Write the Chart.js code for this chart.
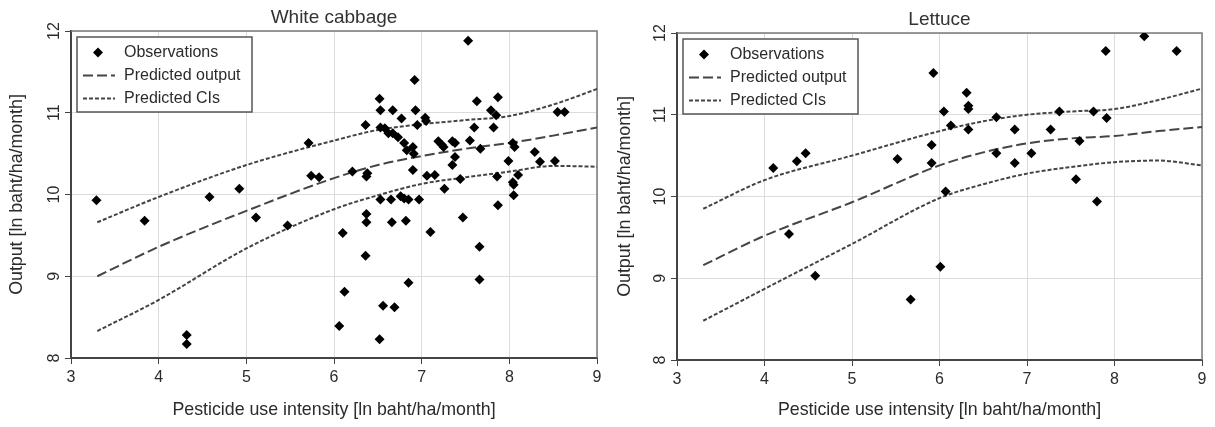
<!DOCTYPE html>
<html>
<head>
  <meta charset="utf-8">
  <title>Pesticide use intensity and output</title>
  <script src="https://cdn.jsdelivr.net/npm/chart.js"></script>
  <style>
    html, body {
      margin: 0;
      padding: 0;
      background: #fff;
    }
    #wrap {
      display: flex;
      width: 1215px;
      height: 427px;
    }
    .panel {
      position: relative;
      height: 427px;
    }
    #p1 { width: 607px; }
    #p2 { width: 608px; }
  </style>
</head>
<body>
  <div id="wrap">
    <div class="panel" id="p1"><canvas id="cabbage"></canvas></div>
    <div class="panel" id="p2"><canvas id="lettuce"></canvas></div>
  </div>

  <script>
    // tick values shared by both panels
    const xTicks = [3, 4, 5, 6, 7, 8, 9];
    const yTicks = [8, 9, 10, 11, 12];

    // White cabbage: observations
    const cabbageObsX = [
      3.29, 3.84, 4.32, 4.32, 4.58, 4.92, 5.11, 5.47, 5.71, 5.74,
      5.83, 6.06, 6.10, 6.12, 6.21, 6.36, 6.38, 6.37, 6.37, 6.37,
      6.36, 6.52, 6.52, 6.53, 6.53, 6.58, 6.53, 6.56, 6.62, 6.67,
      6.67, 6.65, 6.66, 6.69, 6.73, 6.77, 6.76, 6.80, 6.80, 6.82,
      6.83, 6.85, 6.85, 6.90, 6.91, 6.90, 6.92, 6.93, 6.95, 6.97,
      7.04, 7.05, 7.06, 7.10, 7.15, 7.19, 7.23, 7.25, 7.26, 7.35,
      7.38, 7.38, 7.35, 7.44, 7.47, 7.53, 7.55, 7.60, 7.63, 7.66,
      7.66, 7.67, 7.79, 7.82, 7.85, 7.87, 7.86, 7.87, 7.99, 8.04,
      8.06, 8.04, 8.05, 8.05, 8.10, 8.29, 8.35, 8.52, 8.55, 8.63
    ];
    const cabbageObsY = [
      9.93, 9.68, 8.28, 8.17, 9.97, 10.07, 9.72, 9.62, 10.63, 10.23,
      10.21, 8.39, 9.53, 8.81, 10.28, 10.85, 10.26, 10.22, 9.76, 9.66,
      9.25, 8.23, 11.17, 11.03, 10.82, 10.81, 9.94, 8.64, 10.75, 10.75,
      11.03, 9.94, 9.66, 8.62, 10.70, 10.93, 9.98, 10.63, 9.95, 9.68,
      10.54, 9.94, 8.92, 10.58, 10.50, 10.30, 11.40, 11.03, 10.85, 9.94,
      10.94, 10.90, 10.23, 9.54, 10.24, 10.65, 10.61, 10.58, 10.07, 10.65,
      10.63, 10.46, 10.36, 10.19, 9.72, 11.88, 10.66, 10.82, 11.14, 9.36,
      8.96, 10.56, 11.03, 10.82, 10.97, 11.19, 10.22, 9.87, 10.41, 10.63,
      10.58, 10.15, 10.12, 9.99, 10.24, 10.52, 10.40, 10.41, 11.01, 11.01
    ];
    // White cabbage: fitted curve and confidence band
    const cabbageFitX = [3.3, 4, 5, 6, 6.5, 7, 7.5, 8, 8.5, 9];
    const cabbagePred = [9.0, 9.36, 9.8, 10.2, 10.36, 10.47, 10.56, 10.63, 10.72, 10.82];
    const cabbageUpper = [9.66, 9.97, 10.36, 10.66, 10.79, 10.86, 10.91, 10.96, 11.1, 11.29];
    const cabbageLower = [8.33, 8.71, 9.34, 9.82, 9.99, 10.13, 10.21, 10.28, 10.35, 10.34];

    // Lettuce: observations
    const lettuceObsX = [
      4.10, 4.37, 4.47, 5.52, 4.28, 4.58, 5.67, 5.93, 6.05, 5.91,
      5.91, 6.13, 6.31, 6.33, 6.33, 6.33, 6.07, 6.01, 6.65, 6.65,
      6.86, 6.86, 7.05, 7.27, 7.37, 7.60, 7.56, 7.76, 7.91, 7.80,
      7.90, 8.34, 8.71
    ];
    const lettuceObsY = [
      10.35, 10.43, 10.53, 10.46, 9.54, 9.03, 8.74, 11.51, 11.04, 10.63,
      10.41, 10.87, 11.27, 11.11, 11.07, 10.82, 10.06, 9.14, 10.97, 10.53,
      10.82, 10.41, 10.53, 10.82, 11.04, 10.68, 10.21, 11.04, 10.96, 9.94,
      11.78, 11.96, 11.78
    ];
    // Lettuce: fitted curve and confidence band
    const lettuceFitX = [3.3, 4, 5, 6, 6.5, 7, 7.5, 8, 8.5, 9];
    const lettucePred = [9.16, 9.52, 9.93, 10.38, 10.54, 10.65, 10.71, 10.74, 10.8, 10.85];
    const lettuceUpper = [9.85, 10.2, 10.5, 10.8, 10.92, 11.0, 11.04, 11.07, 11.18, 11.32];
    const lettuceLower = [8.48, 8.87, 9.42, 9.98, 10.15, 10.28, 10.36, 10.42, 10.44, 10.38];

    const FONT = '"Liberation Sans", Arial, sans-serif';
    const TEXT = '#2b2b2b';
    const LINE = '#444';

    function pairs(xs, ys) {
      return xs.map((x, i) => ({ x: x, y: ys[i] }));
    }

    // grey top/right edge of the plot box
    const frame = {
      id: 'frame',
      beforeDatasetsDraw(chart) {
        const { ctx, chartArea: a } = chart;
        ctx.save();
        ctx.strokeStyle = '#7a7a7a';
        ctx.lineWidth = 1.5;
        ctx.beginPath();
        ctx.moveTo(a.left, a.top);
        ctx.lineTo(a.right, a.top);
        ctx.lineTo(a.right, a.bottom);
        ctx.stroke();
        ctx.restore();
      }
    };

    // boxed legend inside the plot, upper-left
    const boxLegend = {
      id: 'boxLegend',
      afterDraw(chart) {
        const { ctx, chartArea: a } = chart;
        const x0 = a.left + 6, y0 = a.top + 6, w = 175, h = 75;
        ctx.save();
        ctx.fillStyle = '#fff';
        ctx.fillRect(x0, y0, w, h);
        ctx.strokeStyle = '#555';
        ctx.lineWidth = 1.5;
        ctx.strokeRect(x0, y0, w, h);
        ctx.font = '16px ' + FONT;
        ctx.textAlign = 'left';
        ctx.textBaseline = 'middle';
        const rows = chart.data.datasets.filter(d => !d.noLegend);
        rows.forEach((ds, i) => {
          const cy = y0 + 15.5 + i * 23;
          if (ds.showLine) {
            ctx.strokeStyle = ds.borderColor;
            ctx.lineWidth = ds.borderWidth;
            ctx.setLineDash(ds.borderDash);
            ctx.beginPath();
            ctx.moveTo(x0 + 6, cy);
            ctx.lineTo(x0 + 38, cy);
            ctx.stroke();
            ctx.setLineDash([]);
          } else {
            ctx.fillStyle = ds.pointBackgroundColor;
            ctx.strokeStyle = ds.pointBackgroundColor;
            Chart.helpers.drawPoint(ctx, {
              pointStyle: 'rectRot', radius: 5, borderWidth: 0
            }, x0 + 21, cy);
          }
          ctx.fillStyle = TEXT;
          ctx.fillText(ds.label, x0 + 47, cy);
        });
        ctx.restore();
      }
    };

    function makeChart(id, title, obsX, obsY, fitX, pred, upper, lower, lay) {
      const lineStyle = {
        type: 'scatter',
        showLine: true,
        borderColor: LINE,
        borderWidth: 2,
        pointRadius: 0,
        cubicInterpolationMode: 'monotone',
        fill: false
      };
      return new Chart(document.getElementById(id), {
        type: 'scatter',
        data: {
          datasets: [
            {
              label: 'Observations',
              data: pairs(obsX, obsY),
              pointStyle: 'rectRot',
              pointRadius: 5,
              pointBackgroundColor: '#000',
              pointBorderWidth: 0,
              borderColor: '#000'
            },
            Object.assign({}, lineStyle, {
              label: 'Predicted output',
              data: pairs(fitX, pred),
              borderDash: [10, 4]
            }),
            Object.assign({}, lineStyle, {
              label: 'Predicted CIs',
              data: pairs(fitX, upper),
              borderDash: [4, 2]
            }),
            Object.assign({}, lineStyle, {
              label: 'Predicted CIs',
              noLegend: true,
              data: pairs(fitX, lower),
              borderDash: [4, 2]
            })
          ]
        },
        options: {
          responsive: true,
          maintainAspectRatio: false,
          animation: false,
          layout: {
            padding: { left: 0, right: lay.right, top: 0, bottom: 0 }
          },
          plugins: {
            legend: { display: false },
            tooltip: { enabled: false },
            title: {
              display: true,
              text: title,
              fullSize: false,
              color: '#333',
              font: { family: FONT, size: 19, weight: 'normal' },
              padding: { top: lay.titleTop, bottom: 2.2 }
            }
          },
          scales: {
            x: {
              type: 'linear',
              min: 3,
              max: 9,
              afterBuildTicks: s => { s.ticks = xTicks.map(v => ({ value: v })); },
              afterFit: s => { s.height = lay.xh; },
              grid: { color: '#dcdcdc', lineWidth: 1, tickColor: LINE, tickLength: 6 },
              border: { color: LINE, width: 2 },
              ticks: {
                color: TEXT,
                padding: 4,
                font: { family: FONT, size: 16 }
              },
              title: {
                display: true,
                text: 'Pesticide use intensity [ln baht/ha/month]',
                color: TEXT,
                font: { family: FONT, size: 17.8 },
                padding: { top: 0, bottom: 6.5 }
              }
            },
            y: {
              type: 'linear',
              min: 8,
              max: 12,
              afterBuildTicks: s => { s.ticks = yTicks.map(v => ({ value: v })); },
              afterFit: s => { s.width = lay.yw; },
              grid: { color: '#dcdcdc', lineWidth: 1, tickColor: LINE, tickLength: 6 },
              border: { color: LINE, width: 2 },
              ticks: {
                color: TEXT,
                padding: 2,
                minRotation: 90,
                maxRotation: 90,
                crossAlign: 'center',
                font: { family: FONT, size: 16 }
              },
              title: {
                display: true,
                text: 'Output [ln baht/ha/month]',
                color: TEXT,
                font: { family: FONT, size: 17.8 },
                padding: { top: lay.ytitle, bottom: 0 }
              }
            }
          }
        },
        plugins: [frame, boxLegend]
      });
    }

    makeChart('cabbage', 'White cabbage', cabbageObsX, cabbageObsY,
      cabbageFitX, cabbagePred, cabbageUpper, cabbageLower,
      { right: 10, titleTop: 6, xh: 69, yw: 71, ytitle: 6.5 });

    makeChart('lettuce', 'Lettuce', lettuceObsX, lettuceObsY,
      lettuceFitX, lettucePred, lettuceUpper, lettuceLower,
      { right: 13, titleTop: 8, xh: 67, yw: 70, ytitle: 7.5 });
  </script>
</body>
</html>
